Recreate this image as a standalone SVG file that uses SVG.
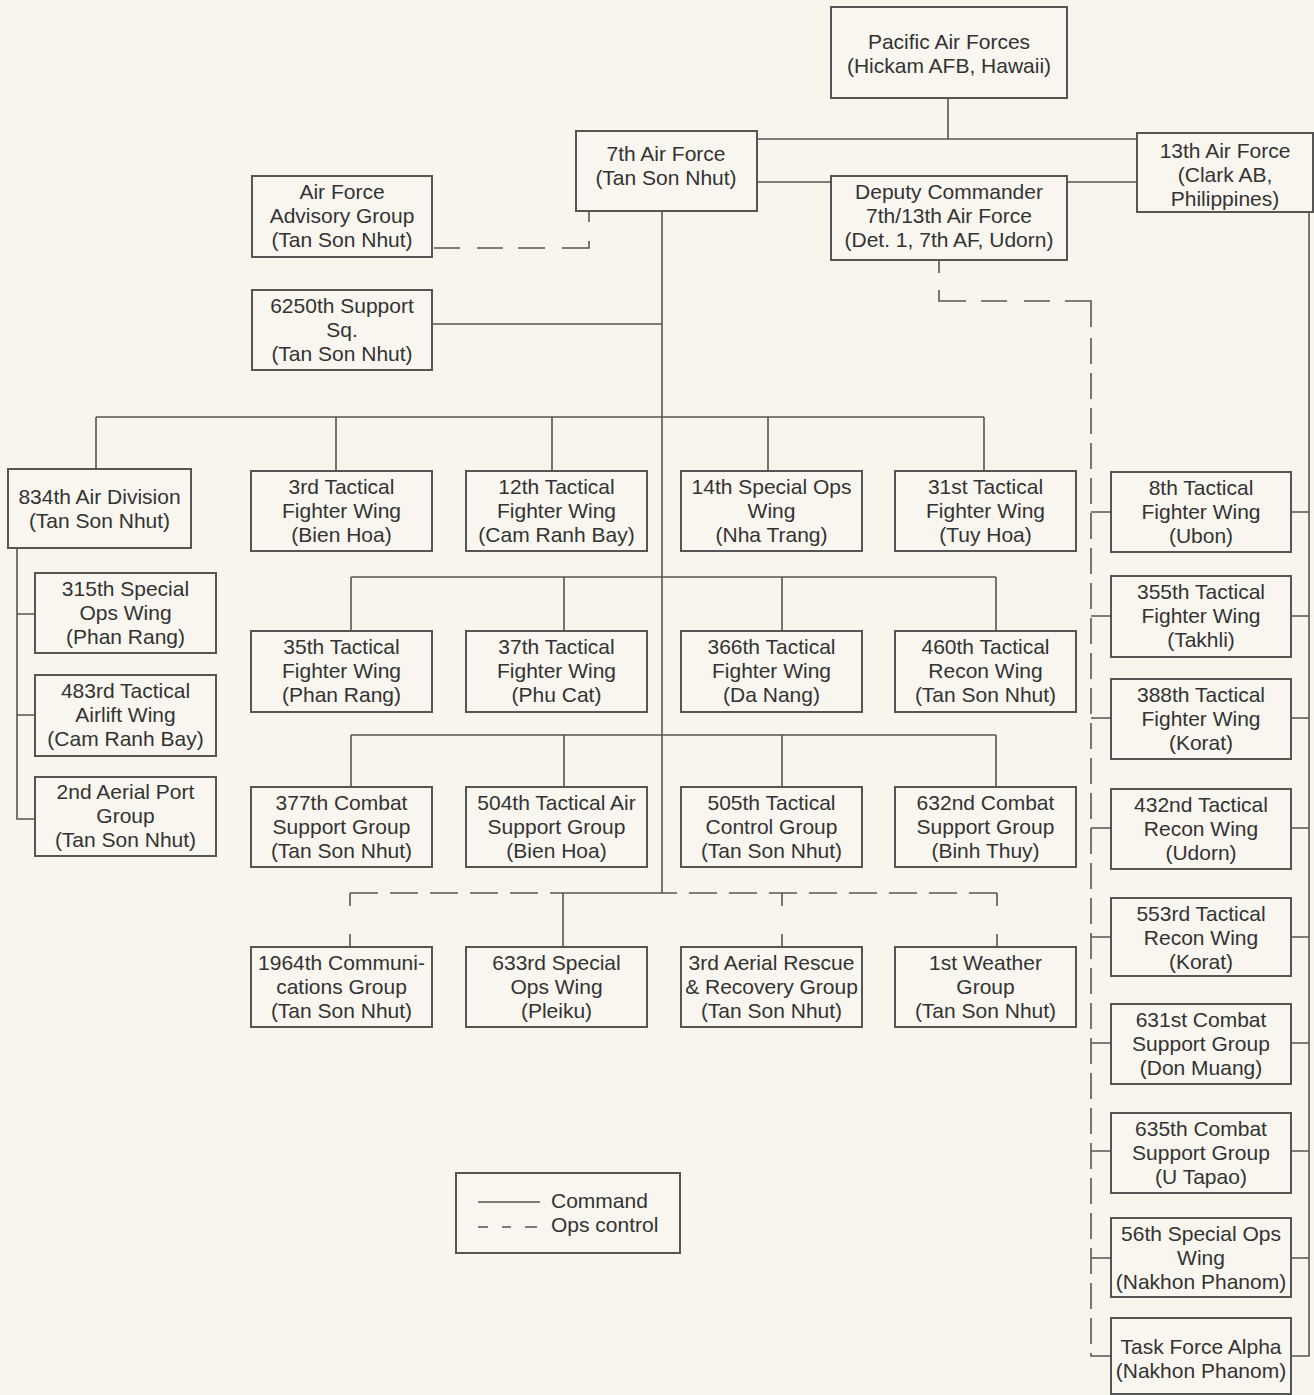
<svg xmlns="http://www.w3.org/2000/svg" width="1314" height="1395" viewBox="0 0 1314 1395">
<style>
.bg{fill:#f7f5ec}
.box{fill:#f8f6ee;stroke:#555;stroke-width:2}
.ln{fill:none;stroke:#555;stroke-width:1.6}
.dash{fill:none;stroke:#555;stroke-width:1.6;stroke-dasharray:28 12}
.vdash{fill:none;stroke:#555;stroke-width:1.6;stroke-dasharray:26 9}
text{font-family:"Liberation Sans",Arial,sans-serif;font-size:21px;fill:#333;text-anchor:middle}
.lg{text-anchor:start}
</style>
<rect class="bg" x="0" y="0" width="1314" height="1395"/>

<g id="connectors">
  <!-- Pacific to 7th and 13th -->
  <path class="ln" d="M948,98 V139 M757,139 H1137"/>
  <path class="ln" d="M757,182 H831 M1067,182 H1137"/>
  <!-- Advisory group ops control -->
  <path class="ln" d="M434,248 H460 M477,248 H503 M518,248 H545 M562,248 H589 V241 M589,222 V211"/>
  <!-- 7th AF main trunk -->
  <path class="ln" d="M662,211 V893"/>
  <path class="ln" d="M432,324 H662"/>
  <!-- row 1 -->
  <path class="ln" d="M96,417 H984 M96,417 V469 M336,417 V471 M552,417 V471 M768,417 V471 M984,417 V471"/>
  <!-- 834th subordinate -->
  <path class="ln" d="M17,548 V819 H35 M17,614 H35 M17,715 H35"/>
  <!-- row 2 -->
  <path class="ln" d="M351,577 H996 M351,577 V631 M564,577 V631 M782,577 V631 M996,577 V631"/>
  <!-- row 3 -->
  <path class="ln" d="M351,735 H996 M351,735 V787 M564,735 V787 M782,735 V787 M996,735 V787"/>
  <!-- row 4 -->
  <path class="dash" d="M350,893 H563"/>
  <path class="dash" d="M997,893 H662"/>
  <path class="ln" d="M563,893 H662 M563,893 V947"/>
  <path class="ln" d="M350,893 V906 M350,934 V947 M782,893 V906 M782,934 V947 M997,893 V906 M997,934 V947"/>
  <!-- Deputy commander ops control -->
  <path class="ln" d="M939,260 V273 M939,290 V301 H966 M981,301 H1007 M1024,301 H1050 M1065,301 H1091 V327"/>
  <path class="vdash" d="M1091,338 V1356 H1111"/>
  <path class="ln" d="M1091,512 H1111 M1091,616 H1111 M1091,718 H1111 M1091,828 H1111 M1091,937 H1111 M1091,1043 H1111 M1091,1151 H1111 M1091,1258 H1111"/>
  <!-- 13th AF command -->
  <path class="ln" d="M1309,212 V1356 H1291"/>
  <path class="ln" d="M1291,512 H1309 M1291,616 H1309 M1291,718 H1309 M1291,828 H1309 M1291,937 H1309 M1291,1043 H1309 M1291,1151 H1309 M1291,1258 H1309"/>
</g>

<g id="pacaf"><rect class="box" x="831" y="7" width="236" height="91"/><text x="949" y="48.5">Pacific Air Forces</text><text x="949" y="72.5">(Hickam AFB, Hawaii)</text></g>
<g id="af7"><rect class="box" x="576" y="131" width="181" height="80"/><text x="666" y="161">7th Air Force</text><text x="666" y="185">(Tan Son Nhut)</text></g>
<g id="af13"><rect class="box" x="1137" y="133" width="176" height="79"/><text x="1225" y="157.5">13th Air Force</text><text x="1225" y="181.5">(Clark AB,</text><text x="1225" y="205.5">Philippines)</text></g>
<g id="deputy"><rect class="box" x="831" y="176" width="236" height="84"/><text x="949" y="198.5">Deputy Commander</text><text x="949" y="222.5">7th/13th Air Force</text><text x="949" y="246.5">(Det. 1, 7th AF, Udorn)</text></g>
<g id="advisory"><rect class="box" x="252" y="176" width="180" height="81"/><text x="342" y="199">Air Force</text><text x="342" y="223">Advisory Group</text><text x="342" y="247">(Tan Son Nhut)</text></g>
<g id="sq6250"><rect class="box" x="252" y="290" width="180" height="80"/><text x="342" y="313">6250th Support</text><text x="342" y="337">Sq.</text><text x="342" y="361">(Tan Son Nhut)</text></g>

<g id="ad834"><rect class="box" x="8" y="469" width="183" height="79"/><text x="99.5" y="504">834th Air Division</text><text x="99.5" y="528">(Tan Son Nhut)</text></g>
<g id="sow315"><rect class="box" x="35" y="573" width="181" height="80"/><text x="125.5" y="596">315th Special</text><text x="125.5" y="620">Ops Wing</text><text x="125.5" y="644">(Phan Rang)</text></g>
<g id="taw483"><rect class="box" x="35" y="675" width="181" height="81"/><text x="125.5" y="698">483rd Tactical</text><text x="125.5" y="722">Airlift Wing</text><text x="125.5" y="746">(Cam Ranh Bay)</text></g>
<g id="apg2"><rect class="box" x="35" y="777" width="181" height="79"/><text x="125.5" y="799">2nd Aerial Port</text><text x="125.5" y="823">Group</text><text x="125.5" y="847">(Tan Son Nhut)</text></g>

<g id="tfw3"><rect class="box" x="251" y="471" width="181" height="80"/><text x="341.5" y="494">3rd Tactical</text><text x="341.5" y="518">Fighter Wing</text><text x="341.5" y="542">(Bien Hoa)</text></g>
<g id="tfw12"><rect class="box" x="466" y="471" width="181" height="80"/><text x="556.5" y="494">12th Tactical</text><text x="556.5" y="518">Fighter Wing</text><text x="556.5" y="542">(Cam Ranh Bay)</text></g>
<g id="sow14"><rect class="box" x="681" y="471" width="181" height="80"/><text x="771.5" y="494">14th Special Ops</text><text x="771.5" y="518">Wing</text><text x="771.5" y="542">(Nha Trang)</text></g>
<g id="tfw31"><rect class="box" x="895" y="471" width="181" height="80"/><text x="985.5" y="494">31st Tactical</text><text x="985.5" y="518">Fighter Wing</text><text x="985.5" y="542">(Tuy Hoa)</text></g>

<g id="tfw35"><rect class="box" x="251" y="631" width="181" height="81"/><text x="341.5" y="654">35th Tactical</text><text x="341.5" y="678">Fighter Wing</text><text x="341.5" y="702">(Phan Rang)</text></g>
<g id="tfw37"><rect class="box" x="466" y="631" width="181" height="81"/><text x="556.5" y="654">37th Tactical</text><text x="556.5" y="678">Fighter Wing</text><text x="556.5" y="702">(Phu Cat)</text></g>
<g id="tfw366"><rect class="box" x="681" y="631" width="181" height="81"/><text x="771.5" y="654">366th Tactical</text><text x="771.5" y="678">Fighter Wing</text><text x="771.5" y="702">(Da Nang)</text></g>
<g id="trw460"><rect class="box" x="895" y="631" width="181" height="81"/><text x="985.5" y="654">460th Tactical</text><text x="985.5" y="678">Recon Wing</text><text x="985.5" y="702">(Tan Son Nhut)</text></g>

<g id="csg377"><rect class="box" x="251" y="787" width="181" height="80"/><text x="341.5" y="809.5">377th Combat</text><text x="341.5" y="833.5">Support Group</text><text x="341.5" y="857.5">(Tan Son Nhut)</text></g>
<g id="tasg504"><rect class="box" x="466" y="787" width="181" height="80"/><text x="556.5" y="809.5">504th Tactical Air</text><text x="556.5" y="833.5">Support Group</text><text x="556.5" y="857.5">(Bien Hoa)</text></g>
<g id="tcg505"><rect class="box" x="681" y="787" width="181" height="80"/><text x="771.5" y="809.5">505th Tactical</text><text x="771.5" y="833.5">Control Group</text><text x="771.5" y="857.5">(Tan Son Nhut)</text></g>
<g id="csg632"><rect class="box" x="895" y="787" width="181" height="80"/><text x="985.5" y="809.5">632nd Combat</text><text x="985.5" y="833.5">Support Group</text><text x="985.5" y="857.5">(Binh Thuy)</text></g>

<g id="cg1964"><rect class="box" x="251" y="947" width="181" height="80"/><text x="341.5" y="969.5">1964th Communi-</text><text x="341.5" y="993.5">cations Group</text><text x="341.5" y="1017.5">(Tan Son Nhut)</text></g>
<g id="sow633"><rect class="box" x="466" y="947" width="181" height="80"/><text x="556.5" y="969.5">633rd Special</text><text x="556.5" y="993.5">Ops Wing</text><text x="556.5" y="1017.5">(Pleiku)</text></g>
<g id="arrg3"><rect class="box" x="681" y="947" width="181" height="80"/><text x="771.5" y="969.5">3rd Aerial Rescue</text><text x="771.5" y="993.5">&amp; Recovery Group</text><text x="771.5" y="1017.5">(Tan Son Nhut)</text></g>
<g id="wg1"><rect class="box" x="895" y="947" width="181" height="80"/><text x="985.5" y="969.5">1st Weather</text><text x="985.5" y="993.5">Group</text><text x="985.5" y="1017.5">(Tan Son Nhut)</text></g>

<g id="tfw8"><rect class="box" x="1111" y="472" width="180" height="80"/><text x="1201" y="494.5">8th Tactical</text><text x="1201" y="518.5">Fighter Wing</text><text x="1201" y="542.5">(Ubon)</text></g>
<g id="tfw355"><rect class="box" x="1111" y="576" width="180" height="81"/><text x="1201" y="599">355th Tactical</text><text x="1201" y="623">Fighter Wing</text><text x="1201" y="647">(Takhli)</text></g>
<g id="tfw388"><rect class="box" x="1111" y="679" width="180" height="80"/><text x="1201" y="701.5">388th Tactical</text><text x="1201" y="725.5">Fighter Wing</text><text x="1201" y="749.5">(Korat)</text></g>
<g id="trw432"><rect class="box" x="1111" y="789" width="180" height="80"/><text x="1201" y="811.5">432nd Tactical</text><text x="1201" y="835.5">Recon Wing</text><text x="1201" y="859.5">(Udorn)</text></g>
<g id="trw553"><rect class="box" x="1111" y="898" width="180" height="78"/><text x="1201" y="920.5">553rd Tactical</text><text x="1201" y="944.5">Recon Wing</text><text x="1201" y="968.5">(Korat)</text></g>
<g id="csg631"><rect class="box" x="1111" y="1004" width="180" height="80"/><text x="1201" y="1026.5">631st Combat</text><text x="1201" y="1050.5">Support Group</text><text x="1201" y="1074.5">(Don Muang)</text></g>
<g id="csg635"><rect class="box" x="1111" y="1113" width="180" height="80"/><text x="1201" y="1135.5">635th Combat</text><text x="1201" y="1159.5">Support Group</text><text x="1201" y="1183.5">(U Tapao)</text></g>
<g id="sow56"><rect class="box" x="1111" y="1218" width="180" height="79"/><text x="1201" y="1240.5">56th Special Ops</text><text x="1201" y="1264.5">Wing</text><text x="1201" y="1288.5">(Nakhon Phanom)</text></g>
<g id="tfa"><rect class="box" x="1111" y="1318" width="180" height="76"/><text x="1201" y="1353.5">Task Force Alpha</text><text x="1201" y="1377.5">(Nakhon Phanom)</text></g>

<g id="legend">
  <rect class="box" x="456" y="1173" width="224" height="80"/>
  <path class="ln" d="M478,1202 H540"/>
  <path class="ln" d="M478,1227 H488 M502,1227 H511 M525,1227 H537"/>
  <text class="lg" x="551" y="1208">Command</text>
  <text class="lg" x="551" y="1232">Ops control</text>
</g>
</svg>
